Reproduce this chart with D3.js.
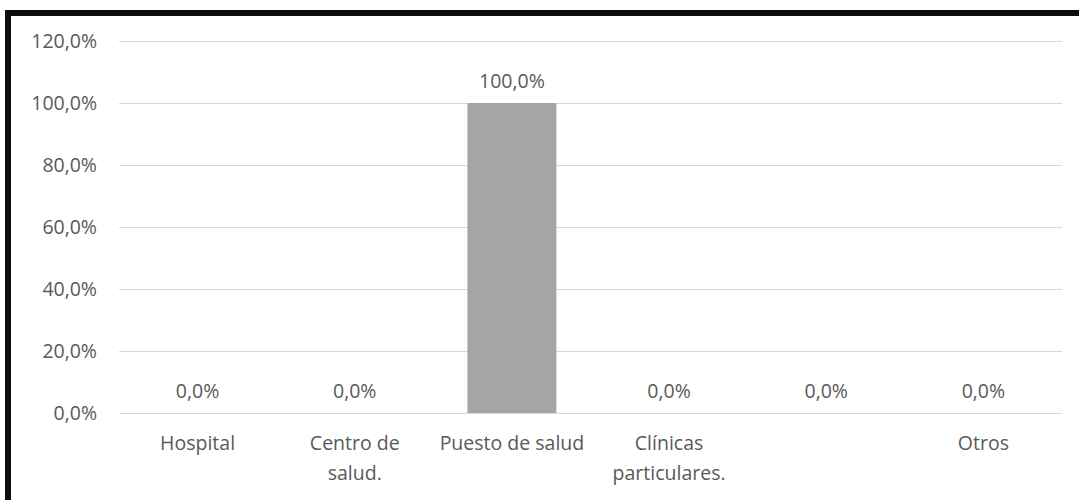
<!DOCTYPE html>
<html>
<head>
<meta charset="utf-8">
<script src="https://cdn.jsdelivr.net/npm/d3@7"></script>
<style>
  body { margin: 0; background: #fff; }
  svg text { font-family: "Open Sans", sans-serif; fill: #595959; }
</style>
</head>
<body>
<div id="chart"></div>
<script>
// Chart data
const categories = ["Hospital", "Centro de|salud.", "Puesto de salud", "Clínicas|particulares.", "", "Otros"];
const values = [0, 0, 100, 0, 0, 0];
const yTicks = [0, 20, 40, 60, 80, 100, 120];

const width = 1079, height = 500;
const margin = { top: 41, right: 17, bottom: 87, left: 119 };
const fontSize = "19.5px";

const svg = d3.select("#chart").append("svg")
    .attr("width", width)
    .attr("height", height);

// frame: black border top and left
svg.append("rect")
    .attr("x", 8).attr("y", 13)
    .attr("width", width + 20).attr("height", height + 20)
    .attr("fill", "none")
    .attr("stroke", "#0d0d0d")
    .attr("stroke-width", 6);

const x = d3.scaleBand()
    .domain(d3.range(categories.length))
    .range([margin.left, width - margin.right])
    .paddingInner(0.434)
    .paddingOuter(0.217);

const y = d3.scaleLinear()
    .domain([0, 120])
    .range([height - margin.bottom, margin.top]);

const fmt = v => v.toFixed(1).replace(".", ",") + "%";

// gridlines
svg.append("g")
    .selectAll("line")
    .data(yTicks)
    .enter().append("line")
    .attr("x1", margin.left)
    .attr("x2", width - margin.right)
    .attr("y1", d => Math.round(y(d)) + 0.5)
    .attr("y2", d => Math.round(y(d)) + 0.5)
    .attr("stroke", "#d9d9d9")
    .attr("stroke-width", 1);

// y axis labels
svg.append("g")
    .selectAll("text")
    .data(yTicks)
    .enter().append("text")
    .attr("x", 97)
    .attr("y", d => y(d))
    .attr("dy", "0.35em")
    .attr("text-anchor", "end")
    .style("font-size", fontSize)
    .text(d => fmt(d));

// bars
svg.append("g")
    .selectAll("rect")
    .data(values)
    .enter().append("rect")
    .attr("x", (d, i) => x(i))
    .attr("y", d => y(d))
    .attr("width", x.bandwidth())
    .attr("height", d => y(0) - y(d))
    .attr("fill", "#a5a5a5");

// data labels
svg.append("g")
    .selectAll("text")
    .data(values)
    .enter().append("text")
    .attr("x", (d, i) => x(i) + x.bandwidth() / 2)
    .attr("y", d => y(d) - 22)
    .attr("dy", "0.35em")
    .attr("text-anchor", "middle")
    .style("font-size", fontSize)
    .text(d => fmt(d));

// category labels, split on "|" into lines
const catG = svg.append("g")
    .selectAll("text")
    .data(categories)
    .enter().append("text")
    .attr("x", (d, i) => x(i) + x.bandwidth() / 2)
    .attr("y", 443)
    .attr("text-anchor", "middle")
    .style("font-size", fontSize);

catG.each(function(d) {
    const lines = d.split("|");
    const t = d3.select(this);
    lines.forEach((line, j) => {
        t.append("tspan")
            .attr("x", t.attr("x"))
            .attr("y", 443 + j * 30)
            .attr("dy", "0.35em")
            .text(line);
    });
});
</script>
</body>
</html>
